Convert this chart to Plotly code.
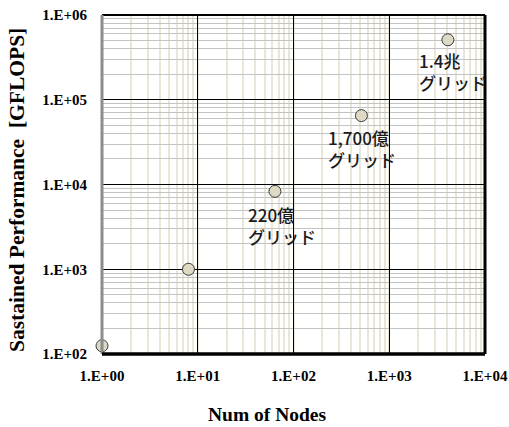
import numpy as np
import plotly.graph_objects as go

# ---- data ----
nodes = [1, 8, 64, 512, 4096]
gflops = [125, 1000, 8300, 65000, 510000]
labels = ["", "", "220億<br>グリッド", "1,700億<br>グリッド", "1.4兆<br>グリッド"]
x_tickvals = [1, 10, 100, 1000, 10000]
x_ticktext = ["1.E+00", "1.E+01", "1.E+02", "1.E+03", "1.E+04"]
y_tickvals = [100, 1000, 10000, 100000, 1000000]
y_ticktext = ["1.E+02", "1.E+03", "1.E+04", "1.E+05", "1.E+06"]
x_title = "Num of Nodes"
y_title = "Sastained Performance  [GFLOPS]"

label_dx = [0, 0, -29, -35, -31]
label_dy = [0, 0, -9, -7, -6]

W, H = 509, 427
ML, MR, MT, MB = 102, 24, 15, 73
pw = W - ML - MR
ph = H - MT - MB


def px_to_paper(px, py):
    return (px - ML) / pw, (H - MB - py) / ph


serif_bold = "Liberation Serif"

fig = go.Figure()
fig.add_trace(go.Scatter(
    x=nodes, y=gflops, mode="markers",
    marker=dict(size=12, color="#ddd9c3", line=dict(color="#3a3a3a", width=1)),
    cliponaxis=False, showlegend=False, hoverinfo="x+y",
))

for i, lab in enumerate(labels):
    if not lab:
        continue
    fig.add_annotation(
        x=np.log10(nodes[i]), y=np.log10(gflops[i]), xref="x", yref="y",
        text=lab, showarrow=False, xanchor="left", yanchor="top", align="left",
        xshift=label_dx[i], yshift=label_dy[i],
        font=dict(family="Noto Sans CJK JP", size=17, color="#1a1a1a", weight=500),
    )

tx, ty = px_to_paper(267, 414)
fig.add_annotation(x=tx, y=ty, xref="paper", yref="paper", text=f"<b>{x_title}</b>",
                   showarrow=False, yanchor="middle", xanchor="center",
                   font=dict(family=serif_bold, size=19.5, color="#000"))
tx, ty = px_to_paper(17, 190)
fig.add_annotation(x=tx, y=ty, xref="paper", yref="paper", text=f"<b>{y_title}</b>",
                   showarrow=False, textangle=-90, yanchor="middle", xanchor="center",
                   font=dict(family=serif_bold, size=21.5, color="#000"))

axis_common = dict(
    type="log", showline=False, zeroline=False, automargin=False,
    gridcolor="#000000", gridwidth=1,
    ticks="outside", tickcolor="rgba(0,0,0,0)",
    tickfont=dict(family=serif_bold, size=15, color="#000"),
)

fig.update_xaxes(
    **axis_common, range=[0, 4], tickvals=x_tickvals, ticklen=8,
    ticktext=[f"<b>{t}</b>" for t in x_ticktext],
    minor=dict(dtick="D1", showgrid=True, gridcolor="#ebe7d6", gridwidth=1.5, ticks=""),
)
fig.update_yaxes(
    **axis_common, range=[2, 6], tickvals=y_tickvals, ticklen=11,
    ticktext=[f"<b>{t}</b>" for t in y_ticktext],
    minor=dict(dtick="D1", showgrid=True, gridcolor="#c4c4c4", gridwidth=1, ticks=""),
)

# frame
fig.add_shape(type="line", xref="paper", yref="paper", x0=0, x1=1, y0=1, y1=1,
              line=dict(color="#000000", width=2))
fig.add_shape(type="line", xref="paper", yref="paper", x0=1, x1=1, y0=0, y1=1,
              line=dict(color="#000000", width=3))
fig.add_shape(type="line", xref="paper", yref="paper", x0=0, x1=0, y0=0, y1=1,
              line=dict(color="#8c8c8c", width=3))
fig.add_shape(type="line", xref="paper", yref="paper", x0=0, x1=1, y0=0, y1=0,
              line=dict(color="#000000", width=3.5))

fig.update_layout(
    width=W, height=H,
    margin=dict(l=ML, r=MR, t=MT, b=MB, autoexpand=False),
    paper_bgcolor="#ffffff", plot_bgcolor="#ffffff",
)

fig.write_html(
    "out.html",
    config={"displayModeBar": False},
    post_script="document.body.style.margin='0';document.body.style.padding='0';document.body.style.overflow='hidden';",
)
